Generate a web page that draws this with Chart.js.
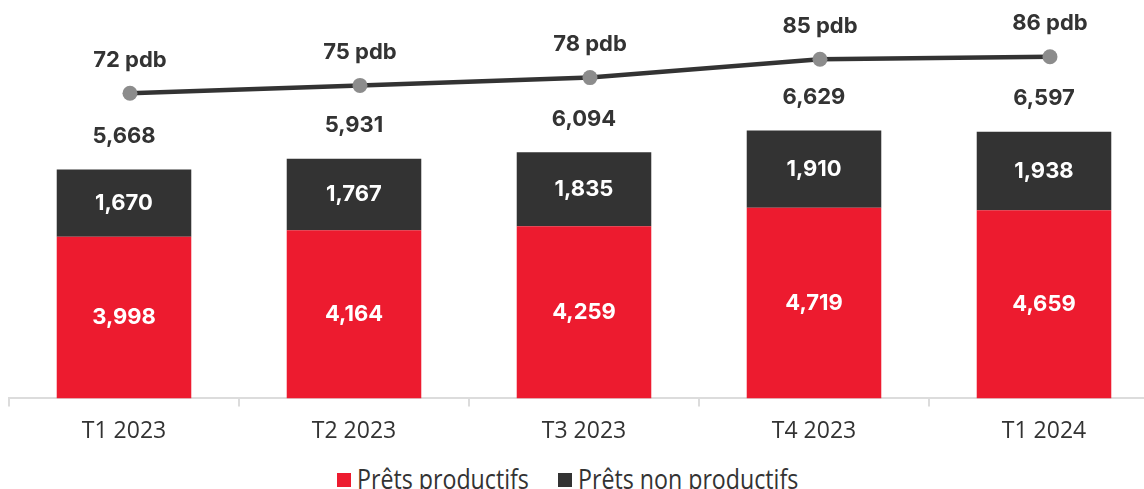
<!DOCTYPE html>
<html>
<head>
<meta charset="utf-8">
<script src="https://cdn.jsdelivr.net/npm/chart.js@4.4.1/dist/chart.umd.min.js"></script>
<style>
  html, body { margin: 0; padding: 0; background: #fff; overflow: hidden; }
  #wrap { position: relative; width: 1160px; height: 489px; }
  canvas { position: absolute; left: 0; top: 0; }
  .sq { position: absolute; width: 14px; height: 14px; top: 473px; }
  .lt { position: absolute; top: 464px; font-family: 'Open Sans', sans-serif; font-size: 26.5px; line-height: 30px; color: #333333; white-space: nowrap; transform: scaleX(0.875); transform-origin: 0 0; }
</style>
</head>
<body>
<div id="wrap">
  <canvas id="c" width="1160" height="457"></canvas>
  <div id="legend"></div>
</div>
<script>
const categories = ['T1 2023', 'T2 2023', 'T3 2023', 'T4 2023', 'T1 2024'];
const pretsProductifs = [3998, 4164, 4259, 4719, 4659];
const pretsNonProductifs = [1670, 1767, 1835, 1910, 1938];
const pdb = [72, 75, 78, 85, 86];
const seriesNames = ['Prêts productifs', 'Prêts non productifs'];

const RED = '#ED1B2F';
const DARK = '#333333';
const fmt = v => v.toLocaleString('en-US');
const totals = pretsProductifs.map((v, i) => v + pretsNonProductifs[i]);

// HTML legend
const legendEl = document.getElementById('legend');
const legendPos = [{ sq: 337, tx: 357 }, { sq: 558, tx: 578 }];
[RED, DARK].forEach((col, i) => {
  const s = document.createElement('div');
  s.className = 'sq'; s.style.left = legendPos[i].sq + 'px'; s.style.background = col;
  const t = document.createElement('div');
  t.className = 'lt'; t.style.left = legendPos[i].tx + 'px'; t.textContent = seriesNames[i];
  legendEl.appendChild(s); legendEl.appendChild(t);
});

const labelPlugin = {
  id: 'valueLabels',
  afterDatasetsDraw(chart) {
    const ctx = chart.ctx;
    ctx.save();
    ctx.textAlign = 'center';
    ctx.textBaseline = 'middle';
    ctx.font = '700 22px Inter';
    [0, 1].forEach(di => {
      const meta = chart.getDatasetMeta(di);
      meta.data.forEach((bar, i) => {
        ctx.fillStyle = '#ffffff';
        ctx.fillText(fmt(chart.data.datasets[di].data[i]), bar.x, (bar.y + bar.base) / 2);
      });
    });
    ctx.fillStyle = DARK;
    chart.getDatasetMeta(1).data.forEach((bar, i) => {
      ctx.fillText(fmt(totals[i]), bar.x, bar.y - 33);
    });
    chart.getDatasetMeta(2).data.forEach((p, i) => {
      ctx.fillText(pdb[i] + ' pdb', p.x, p.y - 33);
    });
    ctx.restore();
  }
};

new Chart(document.getElementById('c'), {
  type: 'bar',
  data: {
    labels: categories,
    datasets: [
      {
        label: seriesNames[0],
        data: pretsProductifs,
        backgroundColor: RED,
        borderWidth: 0,
        grouped: false,
        categoryPercentage: 0.585,
        barPercentage: 1,
        order: 2
      },
      {
        label: seriesNames[1],
        data: pretsNonProductifs,
        backgroundColor: DARK,
        borderWidth: 0,
        grouped: false,
        categoryPercentage: 0.585,
        barPercentage: 1,
        order: 2
      },
      {
        type: 'line',
        label: 'pdb',
        data: pdb.map((v, i) => ({ x: i, y: v })),
        xAxisID: 'xl',
        yAxisID: 'y2',
        borderColor: DARK,
        borderWidth: 4.5,
        tension: 0,
        pointRadius: 7.5,
        pointBackgroundColor: '#8C8C8C',
        pointBorderWidth: 0,
        clip: false,
        order: 0
      }
    ]
  },
  options: {
    responsive: false,
    animation: false,
    layout: { autoPadding: false, padding: { left: 9, right: 1, top: 0, bottom: 0 } },
    plugins: {
      tooltip: { enabled: false },
      legend: { display: false }
    },
    scales: {
      x: {
        stacked: true,
        grid: { drawOnChartArea: false, drawTicks: true, tickLength: 8, color: '#DCDCDC', lineWidth: 2, offset: true },
        border: { color: '#DCDCDC', width: 2 },
        ticks: { color: DARK, font: { family: 'Open Sans', size: 23 }, padding: 11.5, maxRotation: 0 }
      },
      xl: {
        type: 'linear',
        display: false,
        offset: false,
        grid: { offset: false },
        min: -0.526,
        max: 4.474
      },
      y: {
        stacked: true,
        display: false,
        min: 0,
        max: 9860
      },
      y2: {
        display: false,
        min: -44.8,
        max: 107.7
      }
    }
  },
  plugins: [labelPlugin]
});
</script>
</body>
</html>
